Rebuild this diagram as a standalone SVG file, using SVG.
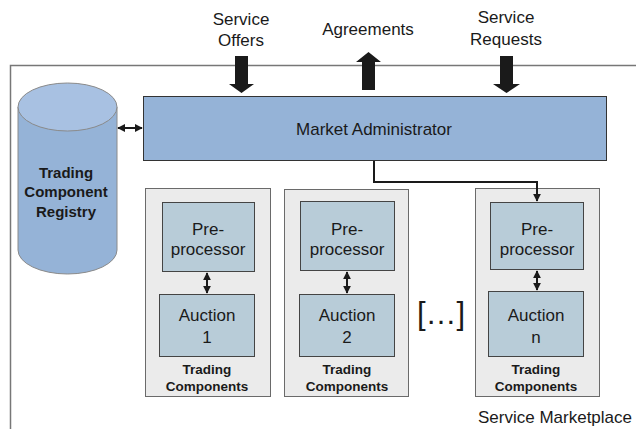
<svg xmlns="http://www.w3.org/2000/svg" width="636" height="429" viewBox="0 0 636 429">
<defs>
<style>
text{font-family:"Liberation Sans",Arial,sans-serif;fill:#1a1a1a;text-anchor:middle}
.t{font-size:17px}
.b{font-weight:bold;font-size:15px}
.s{font-weight:bold;font-size:13.5px}
.tc{fill:#ebebeb;stroke:#6a6a6a;stroke-width:1}
.in{fill:#b8ccd8;stroke:#444;stroke-width:1}
.big{fill:#1a1a1a}
.ln{stroke:#1a1a1a;stroke-width:2;fill:none}
</style>
<marker id="ah" viewBox="0 0 10 10" refX="9" refY="5" markerWidth="4" markerHeight="4" orient="auto-start-reverse"><path d="M0,0L10,5L0,10z" fill="#1a1a1a"/></marker>
</defs>
<rect width="636" height="429" fill="#fff"/>
<g id="frame">
<path d="M10.5,429V65.5H636" fill="none" stroke="#777" stroke-width="1.5"/>
<text class="t" x="555" y="423">Service Marketplace</text>
</g>
<g id="registry">
<path d="M18,107V250A49.5,24 0 0 0 117,250V107" fill="#95b3d7" stroke="#8a8a8a"/>
<ellipse cx="67.5" cy="107" rx="49.5" ry="24" fill="#a8c1e2" stroke="#8a8a8a"/>
<text class="b" x="66" y="178">Trading</text>
<text class="b" x="66" y="197">Component</text>
<text class="b" x="66" y="217">Registry</text>
</g>
<g id="market-admin">
<rect x="143.5" y="96.5" width="463" height="64" fill="#95b3d7" stroke="#333"/>
<text class="t" x="374" y="135">Market Administrator</text>
</g>
<g id="io-labels">
<text class="t" x="241" y="25">Service</text>
<text class="t" x="241" y="46">Offers</text>
<text class="t" x="368" y="35">Agreements</text>
<text class="t" x="506" y="23">Service</text>
<text class="t" x="506" y="45">Requests</text>
</g>
<g id="tc1">
<rect class="tc" x="145.5" y="188.5" width="125" height="208"/>
<rect class="in" x="162.5" y="202.5" width="92" height="69"/>
<text class="t" x="208" y="235">Pre-</text>
<text class="t" x="208" y="255">processor</text>
<rect class="in" x="159.5" y="294.5" width="95" height="62"/>
<text class="t" x="207" y="321">Auction</text>
<text class="t" x="207" y="343">1</text>
<text class="s" x="207" y="374">Trading</text>
<text class="s" x="207" y="391">Components</text>
</g>
<g id="tc2">
<rect class="tc" x="284.5" y="189.5" width="124" height="207"/>
<rect class="in" x="300.5" y="201.5" width="94" height="69"/>
<text class="t" x="347" y="235">Pre-</text>
<text class="t" x="347" y="255">processor</text>
<rect class="in" x="299.5" y="294.5" width="95" height="62"/>
<text class="t" x="347" y="321">Auction</text>
<text class="t" x="347" y="343">2</text>
<text class="s" x="347" y="374">Trading</text>
<text class="s" x="347" y="391">Components</text>
</g>
<g id="ellipsis">
<text x="441" y="324" style="font-size:31px">[…]</text>
</g>
<g id="tcn">
<rect class="tc" x="475.5" y="188.5" width="124" height="208"/>
<rect class="in" x="490.5" y="202.5" width="93" height="67"/>
<text class="t" x="537" y="235">Pre-</text>
<text class="t" x="537" y="255">processor</text>
<rect class="in" x="488.5" y="291.5" width="95" height="65"/>
<text class="t" x="536" y="321">Auction</text>
<text class="t" x="536" y="343">n</text>
<text class="s" x="536" y="374">Trading</text>
<text class="s" x="536" y="391">Components</text>
</g>
<g id="connectors">
<path class="big" d="M235,56H248V84H254L241.5,93L229,84H235z"/>
<path class="big" d="M362,90V62H356L368.5,52L381,62H375V90z"/>
<path class="big" d="M500,56H513V84H520L506.5,93L493,84H500z"/>
<line class="ln" x1="118" y1="128" x2="142" y2="128" marker-start="url(#ah)" marker-end="url(#ah)"/>
<path class="ln" d="M374,161V182H537V201" marker-end="url(#ah)"/>
<line class="ln" x1="207" y1="273" x2="207" y2="293" marker-start="url(#ah)" marker-end="url(#ah)"/>
<line class="ln" x1="347" y1="272" x2="347" y2="293" marker-start="url(#ah)" marker-end="url(#ah)"/>
<line class="ln" x1="537" y1="271" x2="537" y2="290" marker-start="url(#ah)" marker-end="url(#ah)"/>
</g>
</svg>
